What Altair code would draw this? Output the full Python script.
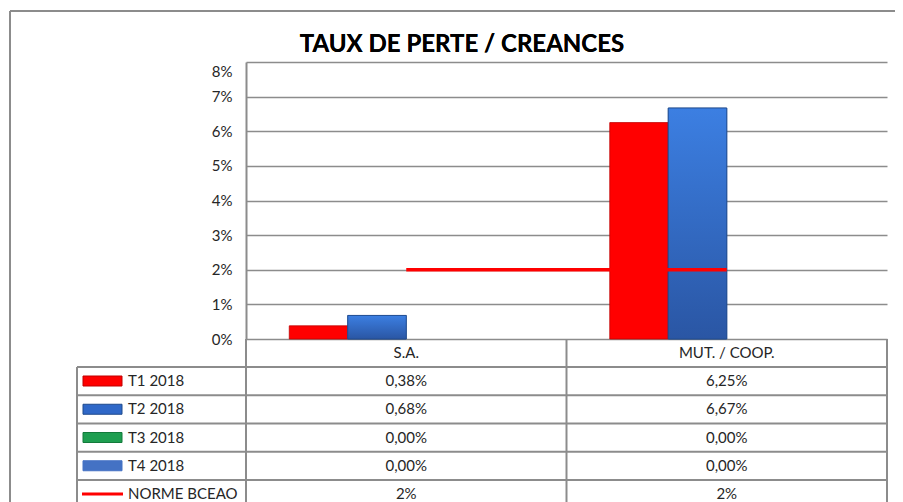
import altair as alt
import pandas as pd

# ---------------- data ----------------
title_text = "TAUX DE PERTE / CREANCES"
categories = ["S.A.", "MUT. / COOP."]
series = ["T1 2018", "T2 2018", "T3 2018", "T4 2018"]
t1 = [0.38, 6.25]
t2 = [0.68, 6.67]
t3 = [0.00, 0.00]
t4 = [0.00, 0.00]
norme_name = "NORME BCEAO"
norme = [2, 2]
y_ticks = [0, 1, 2, 3, 4, 5, 6, 7, 8]

series_colors = ["#FF0000", "#2F68C8", "#1E9E50", "#4472C4"]
series_strokes = ["#C00000", "#1F4A8C", "#137a3b", "#4472C4"]

# ---------------- tables ----------------
def fr(v, dec):
    return f"{v:.{dec}f}".replace(".", ",") + "%"

bar_rows = []
for s, vals in zip(series, [t1, t2, t3, t4]):
    for c, v in zip(categories, vals):
        bar_rows.append({"cat": c, "series": s, "value": v})
bar_df = pd.DataFrame(bar_rows)

norme_df = pd.DataFrame({"cat": categories, "value": norme})

rows = series + [norme_name]
cell_rows = []
for s, vals in zip(series, [t1, t2, t3, t4]):
    for c, v in zip(categories, vals):
        cell_rows.append({"row": s, "cat": c, "label": fr(v, 2)})
for c, v in zip(categories, norme):
    cell_rows.append({"row": norme_name, "cat": c, "label": f"{v}%"})
cell_df = pd.DataFrame(cell_rows)
row_df = pd.DataFrame({"row": rows})
cat_df = pd.DataFrame({"cat": categories})

# ---------------- layout constants ----------------
W, H = 641, 277
FONT = "Lato"
GRID = "#8c8c8c"
TXT = "#262626"
FS = 15

xscale = alt.Scale(domain=categories, paddingInner=0, paddingOuter=0)
xoff = alt.XOffset("series:N", scale=alt.Scale(domain=series, paddingInner=0, paddingOuter=0.74))
yq = alt.Scale(domain=[0, 8])
row_scale = alt.Scale(type="point", domain=rows, range=[319, 432], padding=0)
X = alt.X("cat:N", scale=xscale, sort=categories, axis=None)

# outer frame
frame_left = alt.Chart(cat_df).mark_rule(color=GRID, strokeWidth=2).encode(
    x=alt.value(-236), x2=alt.value(-236), y=alt.value(-51), y2=alt.value(460))
frame_top = alt.Chart(cat_df).mark_rule(color=GRID, strokeWidth=2).encode(
    x=alt.value(-236), x2=alt.value(660), y=alt.value(-51), y2=alt.value(-51))

title = alt.Chart(cat_df).mark_text(
    text=title_text, font=FONT, fontSize=24, fontWeight="bold", color="#000000",
    align="center", baseline="alphabetic").encode(x=alt.value(216), y=alt.value(-10))

bars = alt.Chart(bar_df).transform_filter(alt.datum.value > 0).mark_bar(strokeWidth=0.8).encode(
    x=X, xOffset=xoff,
    y=alt.Y("value:Q", scale=yq, axis=alt.Axis(
        values=y_ticks, labelExpr="datum.value + '%'", tickSize=0, labelPadding=14,
        labelFont=FONT, labelFontSize=15, labelColor=TXT,
        labelOffset={"condition": {"test": "datum.value == 8", "value": 9}, "value": 0},
        grid=True, gridColor=GRID, gridWidth=1.5, domainColor=GRID, domainWidth=2,
        title=None)),
    color=alt.Color("series:N", scale=alt.Scale(domain=series, range=series_colors), legend=None),
    stroke=alt.Stroke("series:N", scale=alt.Scale(domain=series, range=series_strokes), legend=None),
)

blue_grad = alt.LinearGradient(
    gradient="linear", x1=0, y1=0, x2=0, y2=1,
    stops=[alt.GradientStop(color="#3C7FE2", offset=0),
           alt.GradientStop(color="#2A56A4", offset=1)])
bars_t2 = alt.Chart(bar_df).transform_filter(
    (alt.datum.series == series[1]) & (alt.datum.value > 0)).mark_bar(
    fill=blue_grad, stroke="#1F4A8C", strokeWidth=0.8).encode(
    x=X, xOffset=xoff, y=alt.Y("value:Q", scale=yq, axis=None))

line = alt.Chart(norme_df).mark_line(color="#FF0000", strokeWidth=3.5).encode(
    x=X, y=alt.Y("value:Q", scale=yq, axis=None))

# ---------------- data table ----------------
header = alt.Chart(cat_df).mark_text(font=FONT, fontSize=FS, color=TXT).encode(
    x=X, y=alt.value(291), text="cat:N")

Yrow = alt.Y("row:N", scale=row_scale, axis=None)

hlines = alt.Chart(row_df).mark_rule(color=GRID, strokeWidth=2, yOffset=-14.1).encode(
    y=Yrow, x=alt.value(-169), x2=alt.value(W))
vline_left = alt.Chart(cat_df).mark_rule(color=GRID, strokeWidth=2).encode(
    x=alt.value(-169), y=alt.value(305), y2=alt.value(460))
vline_axis = alt.Chart(cat_df).mark_rule(color=GRID, strokeWidth=2).encode(
    x=alt.value(0), y=alt.value(277), y2=alt.value(460))
vlines_cat = alt.Chart(cat_df).mark_rule(color=GRID, strokeWidth=2).encode(
    x=alt.X("cat:N", scale=xscale, sort=categories, axis=None, bandPosition=1),
    y=alt.value(277), y2=alt.value(460))

sym_df = pd.DataFrame({"row": series})
symbols = alt.Chart(sym_df).mark_rect(yOffset=-5, y2Offset=5, strokeWidth=1).encode(
    y=Yrow, y2="row:N", x=alt.value(-163), x2=alt.value(-124),
    color=alt.Color("row:N", scale=alt.Scale(domain=series, range=series_colors), legend=None),
    stroke=alt.Stroke("row:N", scale=alt.Scale(domain=series, range=series_strokes), legend=None),
)
sym_line = alt.Chart(pd.DataFrame({"row": [norme_name]})).mark_rule(
    color="#FF0000", strokeWidth=3).encode(y=Yrow, x=alt.value(-164), x2=alt.value(-123))

row_labels = alt.Chart(row_df).mark_text(
    font=FONT, fontSize=FS, color=TXT, align="left").encode(
    y=Yrow, x=alt.value(-118), text="row:N")

cells = alt.Chart(cell_df).mark_text(font=FONT, fontSize=FS, color=TXT).encode(
    x=X, y=Yrow, text="label:N")

chart = alt.layer(
    frame_left, frame_top, title, bars, bars_t2, line,
    hlines, vline_left, vline_axis, vlines_cat, header, symbols, sym_line, row_labels, cells
).resolve_scale(y="independent", color="independent", stroke="independent").properties(
    width=W, height=H,
    autosize=alt.AutoSizeParams(type="none"),
    padding={"left": 238, "top": 54, "right": 8, "bottom": 171},
    background="white",
).configure_view(stroke=None)

chart.save("out.html", embed_options={"renderer": "svg", "actions": False})
